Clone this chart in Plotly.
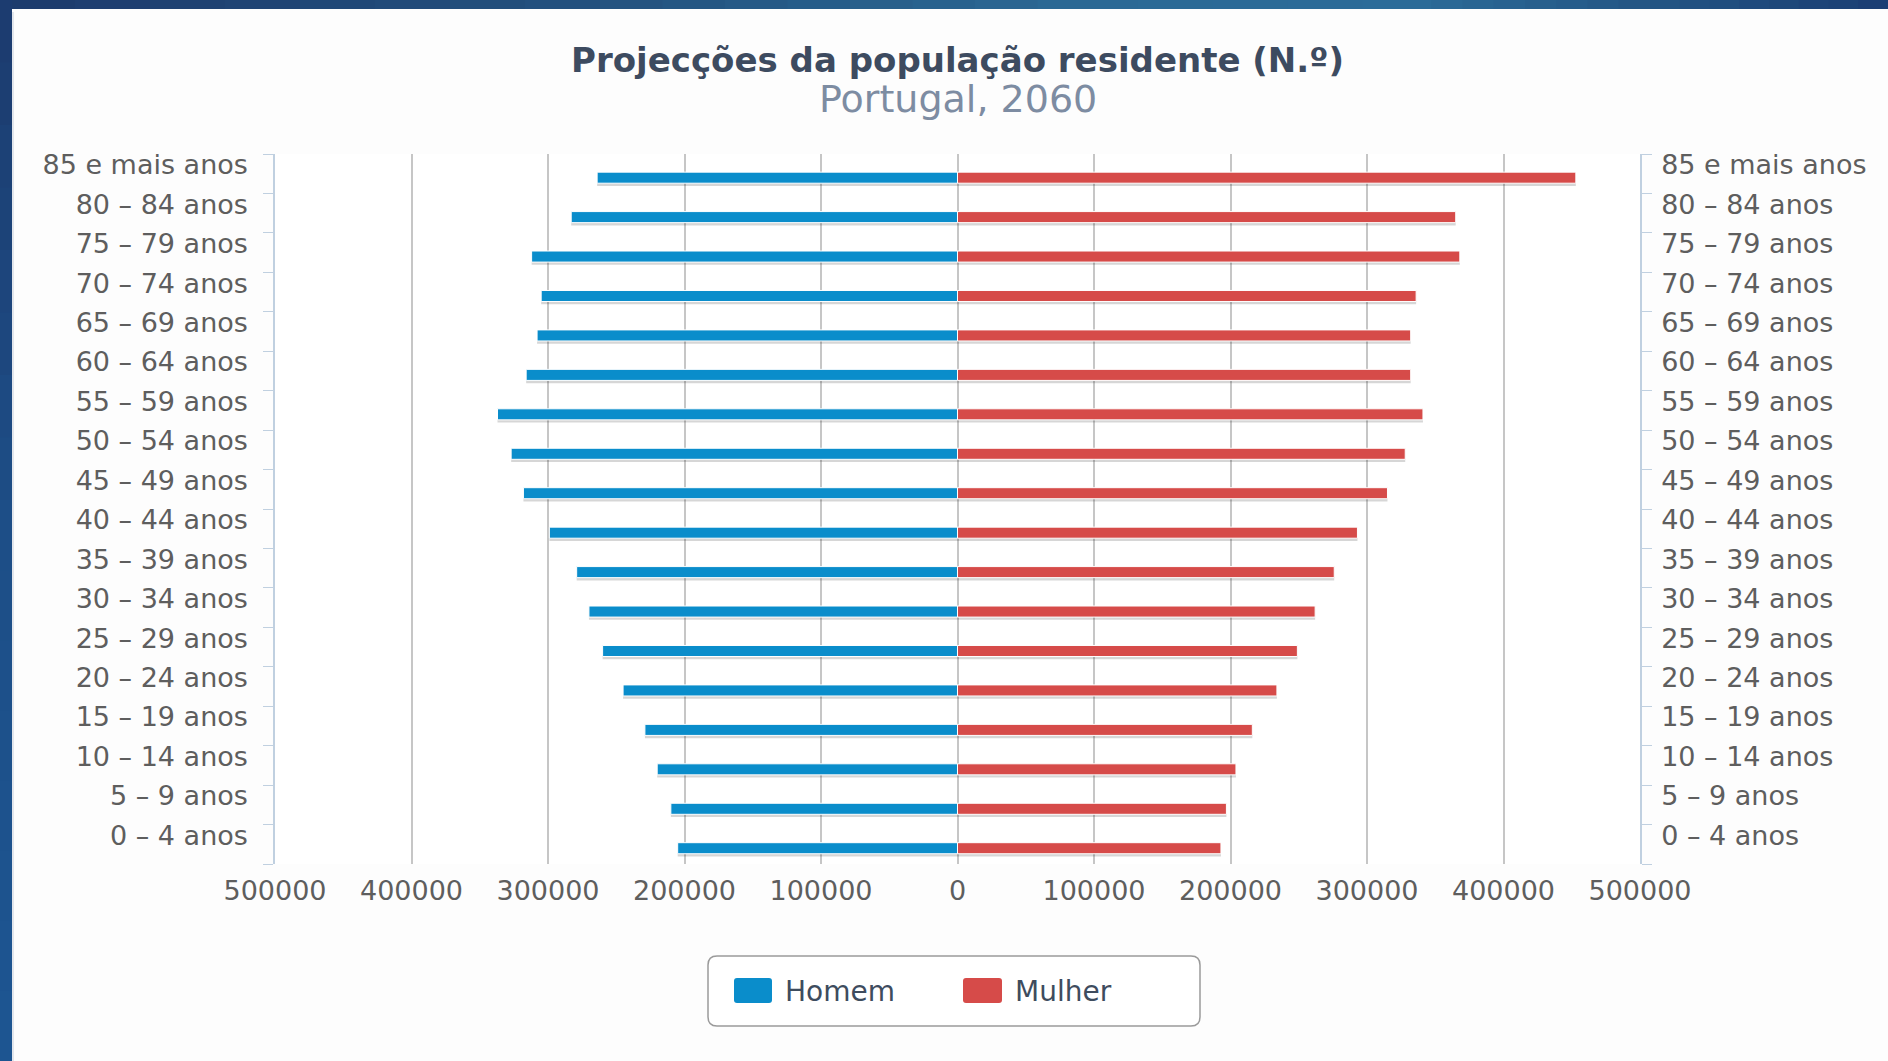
import plotly.graph_objects as go

# ── Dados ───────────────────────────────────────────────────────
# grupos etários, de baixo para cima
CATEGORIAS = [
    "0 – 4 anos", "5 – 9 anos", "10 – 14 anos", "15 – 19 anos", "20 – 24 anos",
    "25 – 29 anos", "30 – 34 anos", "35 – 39 anos", "40 – 44 anos", "45 – 49 anos",
    "50 – 54 anos", "55 – 59 anos", "60 – 64 anos", "65 – 69 anos", "70 – 74 anos",
    "75 – 79 anos", "80 – 84 anos", "85 e mais anos",
]
HOMEM = [205000, 210000, 220000, 229000, 245000, 260000, 270000, 279000, 299000,
         318000, 327000, 337000, 316000, 308000, 305000, 312000, 283000, 264000]
MULHER = [193000, 197000, 204000, 216000, 234000, 249000, 262000, 276000, 293000,
          315000, 328000, 341000, 332000, 332000, 336000, 368000, 365000, 453000]
X_TICKS = [-500000, -400000, -300000, -200000, -100000, 0,
           100000, 200000, 300000, 400000, 500000]
X_TICK_TEXT = ["500000", "400000", "300000", "200000", "100000", "0",
               "100000", "200000", "300000", "400000", "500000"]

TITULO = "Projecções da população residente (N.º)"
SUBTITULO = "Portugal, 2060"

# ── Estilo ──────────────────────────────────────────────────────
W, H = 1888, 1061
PLOT_L, PLOT_R, PLOT_T, PLOT_B = 275, 1640, 154, 864
AZUL = "#0a8dcb"
VERMELHO = "#d64b49"
FONT = "DejaVu Sans"
AXIS_FONT = dict(family=FONT, size=27, color="#5e5e5e")
BAR_W = 0.28
BAR_OFF = -0.24


def px(x):
    return (x - PLOT_L) / (PLOT_R - PLOT_L)


def py(y):
    return (PLOT_B - y) / (PLOT_B - PLOT_T)


def rounded_rect(x0, y0, x1, y1, r):
    """SVG path (paper coords) for a rounded rectangle given in pixels."""
    pts = [
        f"M {px(x0 + r)},{py(y0)}",
        f"L {px(x1 - r)},{py(y0)}",
        f"Q {px(x1)},{py(y0)} {px(x1)},{py(y0 + r)}",
        f"L {px(x1)},{py(y1 - r)}",
        f"Q {px(x1)},{py(y1)} {px(x1 - r)},{py(y1)}",
        f"L {px(x0 + r)},{py(y1)}",
        f"Q {px(x0)},{py(y1)} {px(x0)},{py(y1 - r)}",
        f"L {px(x0)},{py(y0 + r)}",
        f"Q {px(x0)},{py(y0)} {px(x0 + r)},{py(y0)}",
        "Z",
    ]
    return " ".join(pts)


def mix(c1, c2, t):
    a = [int(c1[i:i + 2], 16) for i in (1, 3, 5)]
    b = [int(c2[i:i + 2], 16) for i in (1, 3, 5)]
    return "#" + "".join(f"{round(u + (v - u) * t):02x}" for u, v in zip(a, b))


fig = go.Figure()

# sombras
fig.add_trace(go.Bar(
    y=CATEGORIAS, x=[-v for v in HOMEM], orientation="h",
    width=BAR_W, offset=BAR_OFF - 0.07,
    marker=dict(color="rgba(0,0,0,0.16)", line=dict(width=0)),
    hoverinfo="skip", showlegend=False,
))
fig.add_trace(go.Bar(
    y=CATEGORIAS, x=MULHER, orientation="h", yaxis="y2",
    width=BAR_W, offset=BAR_OFF - 0.07,
    marker=dict(color="rgba(0,0,0,0.16)", line=dict(width=0)),
    hoverinfo="skip", showlegend=False,
))

fig.add_trace(go.Bar(
    y=CATEGORIAS, x=[-v for v in HOMEM], orientation="h", name="Homem",
    width=BAR_W, offset=BAR_OFF,
    marker=dict(color=AZUL, line=dict(color="white", width=1)),
    customdata=HOMEM,
    hovertemplate="Homem<br>%{y}: %{customdata:,}<extra></extra>",
))
fig.add_trace(go.Bar(
    y=CATEGORIAS, x=MULHER, orientation="h", name="Mulher", yaxis="y2",
    width=BAR_W, offset=BAR_OFF,
    marker=dict(color=VERMELHO, line=dict(color="white", width=1)),
    hovertemplate="Mulher<br>%{y}: %{x:,}<extra></extra>",
))

cat_axis = dict(
    type="category", categoryorder="array", categoryarray=CATEGORIAS,
    range=[-0.5, len(CATEGORIAS) - 0.5],
    showline=True, linecolor="#c0d0e0", linewidth=1.5,
    ticks="outside", tickson="boundaries", ticklen=10, tickcolor="#c0d0e0", tickwidth=1,
    showgrid=False, tickfont=AXIS_FONT, ticklabelshift=-9,
    fixedrange=True,
)

# ── Moldura azul (decoração) ────────────────────────────────────
shapes = []
top_stops = [(0, "#1d3a6c"), (600, "#23527f"), (1100, "#2b6995"),
             (1400, "#2c6c99"), (1650, "#235584"), (1888, "#1a3d73")]
for (xa, ca), (xb, cb) in zip(top_stops[:-1], top_stops[1:]):
    n = 8
    for k in range(n):
        x0 = xa + (xb - xa) * k / n
        x1 = xa + (xb - xa) * (k + 1) / n + 1
        shapes.append(dict(type="rect", xref="paper", yref="paper",
                           x0=px(x0), x1=px(x1), y0=py(9), y1=py(0),
                           fillcolor=mix(ca, cb, (k + 0.5) / n), line=dict(width=0),
                           layer="below"))
left_stops = [(0, "#1c3b6e"), (500, "#1d4d86"), (1061, "#1d5692")]
for (ya, ca), (yb, cb) in zip(left_stops[:-1], left_stops[1:]):
    n = 8
    for k in range(n):
        y0 = ya + (yb - ya) * k / n
        y1 = ya + (yb - ya) * (k + 1) / n + 1
        shapes.append(dict(type="rect", xref="paper", yref="paper",
                           x0=px(0), x1=px(12), y0=py(y1), y1=py(y0),
                           fillcolor=mix(ca, cb, (k + 0.5) / n), line=dict(width=0),
                           layer="below"))
shapes.append(dict(type="line", xref="paper", yref="paper",
                   x0=px(13), x1=px(13), y0=py(1061), y1=py(12),
                   line=dict(color="#e2e6ec", width=2), layer="below"))

# ── Legenda (caixa arredondada) ─────────────────────────────────
shapes.append(dict(type="path", xref="paper", yref="paper",
                   path=rounded_rect(708, 956, 1200, 1026, 9),
                   fillcolor="white", line=dict(color="#9a9a9a", width=1.5)))
shapes.append(dict(type="path", xref="paper", yref="paper",
                   path=rounded_rect(734, 978, 772, 1003, 3),
                   fillcolor=AZUL, line=dict(width=0)))
shapes.append(dict(type="path", xref="paper", yref="paper",
                   path=rounded_rect(963, 978, 1002, 1003, 3),
                   fillcolor=VERMELHO, line=dict(width=0)))

legend_font = dict(family=FONT, size=28, color="#3e4c5e")
annotations = [
    dict(text=SUBTITULO, x=0.5, y=py(99), xref="paper", yref="paper",
         xanchor="center", yanchor="middle", showarrow=False,
         font=dict(family=FONT, size=38, color="#7d8ca2")),
    dict(text="Homem", x=px(783), y=py(991), xref="paper", yref="paper",
         xanchor="left", yanchor="middle", showarrow=False, font=legend_font),
    dict(text="Mulher", x=px(1013), y=py(991), xref="paper", yref="paper",
         xanchor="left", yanchor="middle", showarrow=False, font=legend_font),
]

fig.update_layout(
    width=W, height=H,
    margin=dict(l=PLOT_L, r=W - PLOT_R, t=PLOT_T, b=H - PLOT_B),
    barmode="overlay",
    showlegend=False,
    paper_bgcolor="#fdfdfd",
    plot_bgcolor="white",
    title=dict(text=f"<b>{TITULO}</b>", x=0.5, xref="paper", xanchor="center",
               y=1 - 60 / H, yref="container", yanchor="middle",
               font=dict(family=FONT, size=34, color="#3d4b60")),
    xaxis=dict(
        range=[-500000, 500000], tickvals=X_TICKS, ticktext=X_TICK_TEXT,
        showgrid=True, gridcolor="#c6c6c6", gridwidth=1.5,
        zeroline=False, showline=False, ticks="",
        tickfont=AXIS_FONT, ticklabelstandoff=8, fixedrange=True,
    ),
    yaxis=dict(cat_axis, ticklabelstandoff=20),
    yaxis2=dict(cat_axis, overlaying="y", side="right", ticklabelstandoff=14),
    shapes=shapes,
    annotations=annotations,
    hoverlabel=dict(font_family=FONT),
)

# the page body has a default 8px margin; remove it so the figure fills the window
fig.write_html("out.html", config={"displayModeBar": False},
               post_script="document.body.style.margin = '0';")
